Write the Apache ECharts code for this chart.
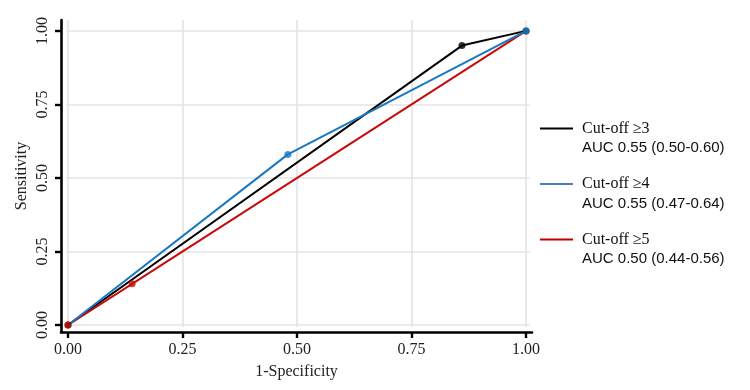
<!DOCTYPE html>
<html>
<head>
<meta charset="utf-8">
<script src="https://cdn.jsdelivr.net/npm/echarts@6/dist/echarts.min.js"></script>
<style>
  html, body { margin: 0; padding: 0; background: #fff; }
  #chart { width: 750px; height: 390px; }
</style>
</head>
<body>
<div id="chart"></div>
<script>
  // ROC points: [1-specificity, sensitivity]
  let cut3 = [[0, 0], [0.86, 0.95], [1, 1]];
  let cut4 = [[0, 0], [0.48, 0.58], [1, 1]];
  let cut5 = [[0, 0], [0.14, 0.14], [1, 1]];
  let seriesNames = ['Cut-off ≥3', 'Cut-off ≥4', 'Cut-off ≥5'];
  let aucLabels = ['AUC 0.55 (0.50-0.60)', 'AUC 0.55 (0.47-0.64)', 'AUC 0.50 (0.44-0.56)'];
  let tickValues = [0, 0.25, 0.5, 0.75, 1];

  let colors = ['#000000', '#1a78c2', '#c80a0a'];
  let legendColors = ['#000000', '#4a7ebb', '#c00000'];
  let serif = '"Liberation Serif", "Times New Roman", serif';
  let sans = '"Liberation Sans", Arial, sans-serif';

  let chart = echarts.init(document.getElementById('chart'));

  // panel is a bit wider than 0..1 (ggplot style expansion)
  let xMin = -0.0153, xMax = 1.013, yMin = -0.0238, yMax = 1.037;
  // gridline extent inside the panel
  let gx0 = -0.004, gx1 = 1.008, gy0 = -0.007, gy1 = 1.037;

  let gridLines = [];
  tickValues.forEach(function (v) {
    gridLines.push([{coord: [v, gy0]}, {coord: [v, gy1]}]);
    gridLines.push([{coord: [gx0, v]}, {coord: [gx1, v]}]);
  });

  let allData = [cut3, cut4, cut5];
  let series = [{
    type: 'line',
    data: [],
    z: 1,
    silent: true,
    markLine: {
      z: 1,
      silent: true,
      symbol: ['none', 'none'],
      label: {show: false},
      lineStyle: {color: '#e4e4e4', width: 1.6, type: 'solid'},
      data: gridLines,
      animation: false
    }
  }];
  // lines first, then dots on top (red dot at origin, blue dot at (1,1) are uppermost)
  let lineOrder = [0, 2, 1];
  lineOrder.forEach(function (i, k) {
    series.push({
      name: seriesNames[i],
      type: 'line',
      data: allData[i],
      z: 6 + k,
      showSymbol: false,
      lineStyle: {color: colors[i], width: 2},
      itemStyle: {color: colors[i]},
      emphasis: {disabled: true}
    });
  });
  let dotOrder = [0, 1, 2];
  dotOrder.forEach(function (i) {
    let pts = allData[i].filter(function (p, k) {
      if (i === 2 && k === allData[i].length - 1) return false;
      if (i === 1 && k === 0) return false;
      return true;
    });
    series.push({
      type: 'scatter',
      data: pts,
      z: 10 + i,
      symbol: 'circle',
      symbolSize: 7,
      itemStyle: {color: colors[i]},
      silent: true
    });
  });

  let legendData = [];
  for (let i = 0; i < seriesNames.length; i++) {
    legendData.push({name: seriesNames[i], itemStyle: {color: legendColors[i]}});
  }

  let option = {
    animation: false,
    grid: {left: 61, right: 218, top: 20, bottom: 58},
    xAxis: {
      type: 'value', min: xMin, max: xMax,
      name: '1-Specificity', nameLocation: 'middle', nameGap: 32, nameMoveOverlap: false,
      nameTextStyle: {fontFamily: serif, fontSize: 16, color: '#222'},
      axisLine: {show: true, onZero: false, lineStyle: {color: '#000', width: 2.6}},
      axisTick: {show: true, length: 6, customValues: tickValues, lineStyle: {color: '#000', width: 2.4}},
      axisLabel: {fontFamily: serif, fontSize: 16, color: '#222', margin: 10, customValues: tickValues,
        formatter: function (v) { return v.toFixed(2); }},
      splitLine: {show: false}
    },
    yAxis: {
      type: 'value', min: yMin, max: yMax,
      name: 'Sensitivity', nameLocation: 'middle', nameGap: 31, nameMoveOverlap: false,
      nameTextStyle: {fontFamily: serif, fontSize: 16, color: '#222'},
      axisLine: {show: true, onZero: false, lineStyle: {color: '#000', width: 2.6}},
      axisTick: {show: true, length: 6, customValues: tickValues, lineStyle: {color: '#000', width: 2.4}},
      axisLabel: {fontFamily: serif, fontSize: 16, color: '#222', margin: 10, rotate: 90, customValues: tickValues,
        formatter: function (v) { return v.toFixed(2); }},
      splitLine: {show: false}
    },
    legend: {
      orient: 'vertical',
      left: 535,
      top: 99,
      itemWidth: 33,
      itemHeight: 2,
      itemGap: 4,
      icon: 'rect',
      selectedMode: false,
      data: legendData,
      formatter: function (name) {
        let idx = seriesNames.indexOf(name);
        return '{e| }\n{a|' + name + '}\n{b|' + aucLabels[idx] + '}';
      },
      textStyle: {
        rich: {
          e: {fontSize: 10, lineHeight: 19},
          a: {fontFamily: serif, fontSize: 16, lineHeight: 20, color: '#111', padding: [0, 0, 0, 4]},
          b: {fontFamily: sans, fontSize: 15, lineHeight: 19, color: '#111', padding: [0, 0, 0, 4]}
        }
      }
    },
    series: series
  };

  chart.setOption(option);
</script>
</body>
</html>
